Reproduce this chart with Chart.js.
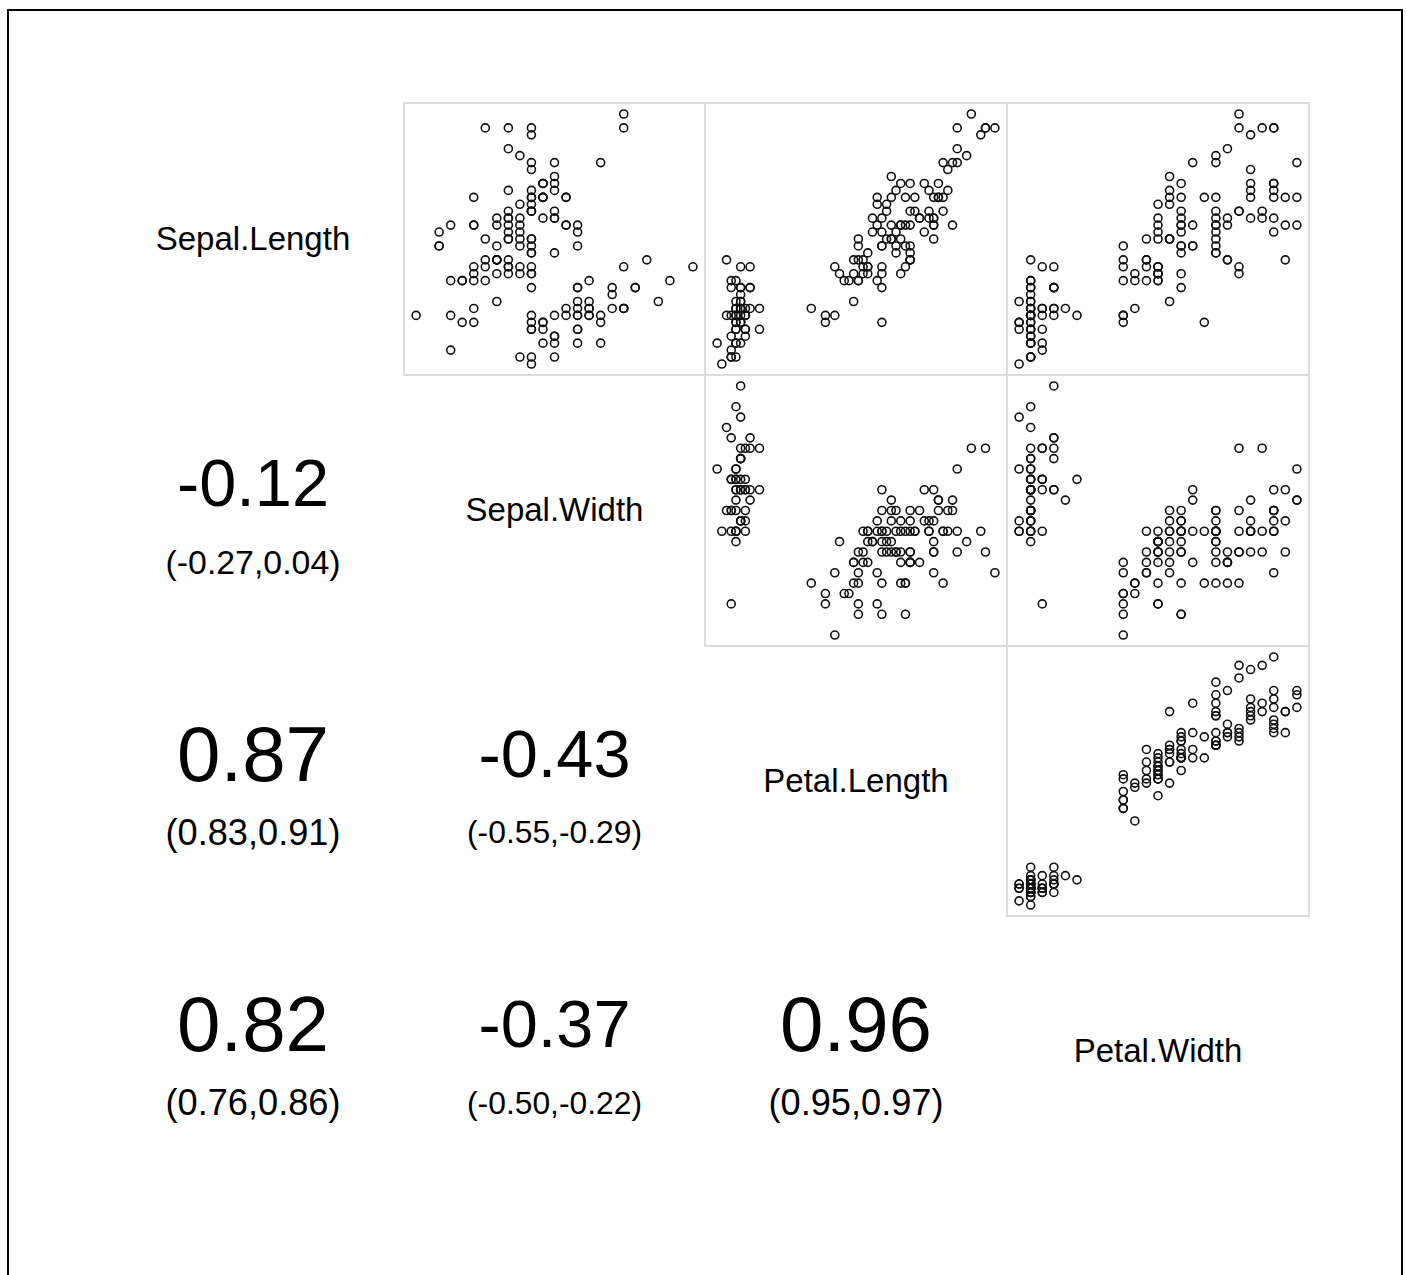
<!DOCTYPE html>
<html lang="en">
<head>
<meta charset="UTF-8">
<title>Iris pairs plot</title>
<script src="https://cdn.jsdelivr.net/npm/chart.js"></script>
<style>
html,body{margin:0;padding:0;background:#fff;overflow:hidden;width:1407px;height:1275px;}
body{font-family:'Liberation Sans',Arial,sans-serif;color:#000;}
.frame{position:absolute;left:7px;top:9px;width:1396px;height:1300px;border:2px solid #000;box-sizing:border-box;}
.panel{position:absolute;border:2px solid #dcdcdc;box-sizing:border-box;}
.txt{position:absolute;text-align:center;white-space:nowrap;}
</style>
</head>
<body>
<div class="frame"></div>
<div id="page"></div>
<script>
// iris measurements (150 flowers)
const sepalLength=[5.1,4.9,4.7,4.6,5.0,5.4,4.6,5.0,4.4,4.9,5.4,4.8,4.8,4.3,5.8,5.7,5.4,5.1,5.7,5.1,5.4,5.1,4.6,5.1,4.8,5.0,5.0,5.2,5.2,4.7,4.8,5.4,5.2,5.5,4.9,5.0,5.5,4.9,4.4,5.1,5.0,4.5,4.4,5.0,5.1,4.8,5.1,4.6,5.3,5.0,
7.0,6.4,6.9,5.5,6.5,5.7,6.3,4.9,6.6,5.2,5.0,5.9,6.0,6.1,5.6,6.7,5.6,5.8,6.2,5.6,5.9,6.1,6.3,6.1,6.4,6.6,6.8,6.7,6.0,5.7,5.5,5.5,5.8,6.0,5.4,6.0,6.7,6.3,5.6,5.5,5.5,6.1,5.8,5.0,5.6,5.7,5.7,6.2,5.1,5.7,
6.3,5.8,7.1,6.3,6.5,7.6,4.9,7.3,6.7,7.2,6.5,6.4,6.8,5.7,5.8,6.4,6.5,7.7,7.7,6.0,6.9,5.6,7.7,6.3,6.7,7.2,6.2,6.1,6.4,7.2,7.4,7.9,6.4,6.3,6.1,7.7,6.3,6.4,6.0,6.9,6.7,6.9,5.8,6.8,6.7,6.7,6.3,6.5,6.2,5.9];
const sepalWidth=[3.5,3.0,3.2,3.1,3.6,3.9,3.4,3.4,2.9,3.1,3.7,3.4,3.0,3.0,4.0,4.4,3.9,3.5,3.8,3.8,3.4,3.7,3.6,3.3,3.4,3.0,3.4,3.5,3.4,3.2,3.1,3.4,4.1,4.2,3.1,3.2,3.5,3.6,3.0,3.4,3.5,2.3,3.2,3.5,3.8,3.0,3.8,3.2,3.7,3.3,
3.2,3.2,3.1,2.3,2.8,2.8,3.3,2.4,2.9,2.7,2.0,3.0,2.2,2.9,2.9,3.1,3.0,2.7,2.2,2.5,3.2,2.8,2.5,2.8,2.9,3.0,2.8,3.0,2.9,2.6,2.4,2.4,2.7,2.7,3.0,3.4,3.1,2.3,3.0,2.5,2.6,3.0,2.6,2.3,2.7,3.0,2.9,2.9,2.5,2.8,
3.3,2.7,3.0,2.9,3.0,3.0,2.5,2.9,2.5,3.6,3.2,2.7,3.0,2.5,2.8,3.2,3.0,3.8,2.6,2.2,3.2,2.8,2.8,2.7,3.3,3.2,2.8,3.0,2.8,3.0,2.8,3.8,2.8,2.8,2.6,3.0,3.4,3.1,3.0,3.1,3.1,3.1,2.7,3.2,3.3,3.0,2.5,3.0,3.4,3.0];
const petalLength=[1.4,1.4,1.3,1.5,1.4,1.7,1.4,1.5,1.4,1.5,1.5,1.6,1.4,1.1,1.2,1.5,1.3,1.4,1.7,1.5,1.7,1.5,1.0,1.7,1.9,1.6,1.6,1.5,1.4,1.6,1.6,1.5,1.5,1.4,1.5,1.2,1.3,1.4,1.3,1.5,1.3,1.3,1.3,1.6,1.9,1.4,1.6,1.4,1.5,1.4,
4.7,4.5,4.9,4.0,4.6,4.5,4.7,3.3,4.6,3.9,3.5,4.2,4.0,4.7,3.6,4.4,4.5,4.1,4.5,3.9,4.8,4.0,4.9,4.7,4.3,4.4,4.8,5.0,4.5,3.5,3.8,3.7,3.9,5.1,4.5,4.5,4.7,4.4,4.1,4.0,4.4,4.6,4.0,3.3,4.2,4.2,4.2,4.3,3.0,4.1,
6.0,5.1,5.9,5.6,5.8,6.6,4.5,6.3,5.8,6.1,5.1,5.3,5.5,5.0,5.1,5.3,5.5,6.7,6.9,5.0,5.7,4.9,6.7,4.9,5.7,6.0,4.8,4.9,5.6,5.8,6.1,6.4,5.6,5.1,5.6,6.1,5.6,5.5,4.8,5.4,5.6,5.1,5.1,5.9,5.7,5.2,5.0,5.2,5.4,5.1];
const petalWidth=[0.2,0.2,0.2,0.2,0.2,0.4,0.3,0.2,0.2,0.1,0.2,0.2,0.1,0.1,0.2,0.4,0.4,0.3,0.3,0.3,0.2,0.4,0.2,0.5,0.2,0.2,0.4,0.2,0.2,0.2,0.2,0.4,0.1,0.2,0.2,0.2,0.2,0.1,0.2,0.2,0.3,0.3,0.2,0.6,0.4,0.3,0.2,0.2,0.2,0.2,
1.4,1.5,1.5,1.3,1.5,1.3,1.6,1.0,1.3,1.4,1.0,1.5,1.0,1.4,1.3,1.4,1.5,1.0,1.5,1.1,1.8,1.3,1.5,1.2,1.3,1.4,1.4,1.7,1.5,1.0,1.1,1.0,1.2,1.6,1.5,1.6,1.5,1.3,1.3,1.3,1.2,1.4,1.2,1.0,1.3,1.2,1.3,1.3,1.1,1.3,
2.5,1.9,2.1,1.8,2.2,2.1,1.7,1.8,1.8,2.5,2.0,1.9,2.1,2.0,2.4,2.3,1.8,2.2,2.3,1.5,2.3,2.0,2.0,1.8,2.1,1.8,1.8,1.8,2.1,1.6,1.9,2.0,2.2,1.5,1.4,2.3,2.4,1.8,1.8,2.1,2.4,2.3,1.9,2.3,2.5,2.3,1.9,2.0,2.3,1.8];

const varNames=['Sepal.Length','Sepal.Width','Petal.Length','Petal.Width'];
const columns=[sepalLength,sepalWidth,petalLength,petalWidth];

// lower panels, keyed "row,col"
const corLabels={'1,0':'-0.12','2,0':'0.87','2,1':'-0.43','3,0':'0.82','3,1':'-0.37','3,2':'0.96'};
const ciLabels={'1,0':'(-0.27,0.04)','2,0':'(0.83,0.91)','2,1':'(-0.55,-0.29)','3,0':'(0.76,0.86)','3,1':'(-0.50,-0.22)','3,2':'(0.95,0.97)'};

// cell edges in px
const colX=[102,404,705,1007,1309];
const rowY=[103,375,646,916,1187];

const page=document.getElementById('page');
const meas=document.createElement('canvas').getContext('2d');
function fitSize(txt,w){meas.font='100px "Liberation Sans", Arial, sans-serif';return 100*w/meas.measureText(txt).width;}
function addText(txt,cx,cy,size){
  const d=document.createElement('div');d.className='txt';d.textContent=txt;
  d.style.fontSize=size+'px';d.style.lineHeight=size+'px';d.style.height=size+'px';
  d.style.width='400px';d.style.left=(cx-200)+'px';d.style.top=(cy-size/2)+'px';
  page.appendChild(d);
}
function padRange(v){const lo=Math.min(...v),hi=Math.max(...v),p=0.04*(hi-lo);return {min:lo-p,max:hi+p};}

for(let i=0;i<4;i++){
  for(let j=0;j<4;j++){
    const cx=(colX[j]+colX[j+1])/2, cy=(rowY[i]+rowY[i+1])/2;
    if(i===j){addText(varNames[i],cx,cy-1,33);continue;}
    if(i>j){
      const r=corLabels[i+','+j], ci=ciLabels[i+','+j];
      addText(r,cx,cy-27,fitSize(r,152));
      addText(ci,cx,cy+52,fitSize(ci,175));
      continue;
    }
    // upper panel: x = column variable, y = row variable
    const box=document.createElement('div');box.className='panel';
    box.style.left=(colX[j]-1)+'px';box.style.top=(rowY[i]-1)+'px';
    box.style.width=(colX[j+1]-colX[j]+2)+'px';box.style.height=(rowY[i+1]-rowY[i]+2)+'px';
    const cv=document.createElement('canvas');box.appendChild(cv);page.appendChild(box);
    const xs=columns[j], ys=columns[i];
    const pts=xs.map((x,k)=>({x:x,y:ys[k]}));
    const xr=padRange(xs), yr=padRange(ys);
    new Chart(cv,{type:'scatter',
      data:{datasets:[{data:pts,pointRadius:4,pointHoverRadius:4,borderWidth:1.6,borderColor:'#111',backgroundColor:'rgba(0,0,0,0)'}]},
      options:{responsive:true,maintainAspectRatio:false,animation:false,events:[],
        layout:{padding:0,autoPadding:false},
        plugins:{legend:{display:false},tooltip:{enabled:false}},
        scales:{x:{type:'linear',display:false,min:xr.min,max:xr.max},y:{type:'linear',display:false,min:yr.min,max:yr.max}}}});
  }
}
</script>
</body>
</html>
